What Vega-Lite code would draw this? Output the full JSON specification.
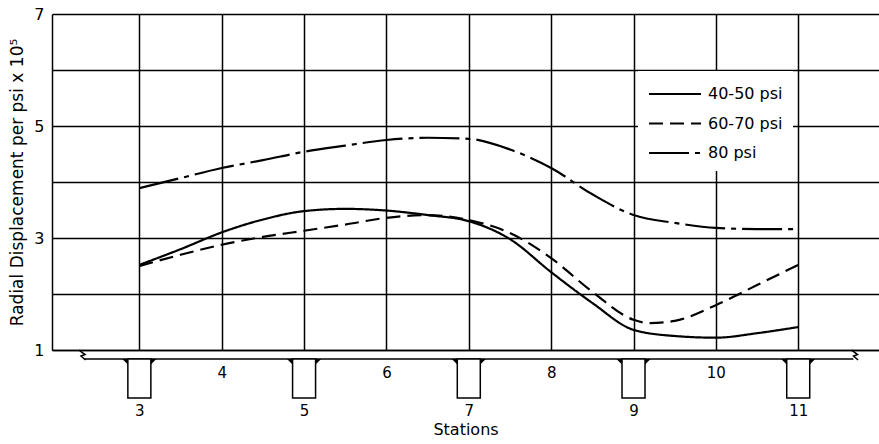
{
  "$schema": "https://vega.github.io/schema/vega-lite/v6.json",
  "autosize": {"type": "none"},
  "padding": {"left": 52, "top": 14, "right": 0, "bottom": 94},
  "width": 827,
  "height": 336,
  "background": "white",
  "config": {
    "view": {"stroke": null},
    "font": "DejaVu Sans"
  },
  "datasets": {
    "curves": [
      {"station": 3, "value": 2.52, "series": "40-50 psi"},
      {"station": 3.5, "value": 2.8, "series": "40-50 psi"},
      {"station": 4, "value": 3.1, "series": "40-50 psi"},
      {"station": 4.5, "value": 3.33, "series": "40-50 psi"},
      {"station": 5, "value": 3.48, "series": "40-50 psi"},
      {"station": 5.5, "value": 3.52, "series": "40-50 psi"},
      {"station": 6, "value": 3.49, "series": "40-50 psi"},
      {"station": 6.5, "value": 3.41, "series": "40-50 psi"},
      {"station": 7, "value": 3.3, "series": "40-50 psi"},
      {"station": 7.5, "value": 2.98, "series": "40-50 psi"},
      {"station": 8, "value": 2.39, "series": "40-50 psi"},
      {"station": 8.5, "value": 1.84, "series": "40-50 psi"},
      {"station": 9, "value": 1.36, "series": "40-50 psi"},
      {"station": 9.5, "value": 1.25, "series": "40-50 psi"},
      {"station": 10, "value": 1.22, "series": "40-50 psi"},
      {"station": 10.5, "value": 1.3, "series": "40-50 psi"},
      {"station": 11, "value": 1.41, "series": "40-50 psi"},
      {"station": 3, "value": 2.5, "series": "60-70 psi"},
      {"station": 3.5, "value": 2.7, "series": "60-70 psi"},
      {"station": 4, "value": 2.88, "series": "60-70 psi"},
      {"station": 4.5, "value": 3.02, "series": "60-70 psi"},
      {"station": 5, "value": 3.13, "series": "60-70 psi"},
      {"station": 5.5, "value": 3.24, "series": "60-70 psi"},
      {"station": 6, "value": 3.36, "series": "60-70 psi"},
      {"station": 6.5, "value": 3.41, "series": "60-70 psi"},
      {"station": 7, "value": 3.32, "series": "60-70 psi"},
      {"station": 7.5, "value": 3.09, "series": "60-70 psi"},
      {"station": 8, "value": 2.64, "series": "60-70 psi"},
      {"station": 8.5, "value": 2.04, "series": "60-70 psi"},
      {"station": 9, "value": 1.54, "series": "60-70 psi"},
      {"station": 9.2, "value": 1.48, "series": "60-70 psi"},
      {"station": 9.5, "value": 1.52, "series": "60-70 psi"},
      {"station": 10, "value": 1.8, "series": "60-70 psi"},
      {"station": 10.5, "value": 2.16, "series": "60-70 psi"},
      {"station": 11, "value": 2.52, "series": "60-70 psi"},
      {"station": 3, "value": 3.89, "series": "80 psi"},
      {"station": 3.5, "value": 4.07, "series": "80 psi"},
      {"station": 4, "value": 4.25, "series": "80 psi"},
      {"station": 4.5, "value": 4.39, "series": "80 psi"},
      {"station": 5, "value": 4.54, "series": "80 psi"},
      {"station": 5.5, "value": 4.65, "series": "80 psi"},
      {"station": 6, "value": 4.75, "series": "80 psi"},
      {"station": 6.5, "value": 4.79, "series": "80 psi"},
      {"station": 7, "value": 4.77, "series": "80 psi"},
      {"station": 7.5, "value": 4.58, "series": "80 psi"},
      {"station": 8, "value": 4.25, "series": "80 psi"},
      {"station": 8.5, "value": 3.78, "series": "80 psi"},
      {"station": 9, "value": 3.41, "series": "80 psi"},
      {"station": 9.5, "value": 3.27, "series": "80 psi"},
      {"station": 10, "value": 3.18, "series": "80 psi"},
      {"station": 10.5, "value": 3.16, "series": "80 psi"},
      {"station": 11, "value": 3.16, "series": "80 psi"}
    ],
    "piers": [
      {"station": 3}, {"station": 5}, {"station": 7}, {"station": 9}, {"station": 11}
    ],
    "one": [{"item": "beam"}]
  },
  "layer": [
    {
      "data": {"name": "curves"},
      "mark": {"type": "line", "interpolate": "monotone", "color": "black", "strokeWidth": 2.2},
      "encoding": {
        "x": {
          "field": "station", "type": "quantitative", "title": "Stations",
          "scale": {"domain": [2, 11.92], "nice": false, "zero": false},
          "axis": {
            "values": [3, 4, 5, 6, 7, 8, 9, 10, 11],
            "format": "d",
            "title": "Stations",
            "titleFont": "DejaVu Sans", "titleFontSize": 16, "titleFontWeight": "normal", "titleColor": "black",
            "titlePadding": 3,
            "labelFont": "DejaVu Sans", "labelFontSize": 15, "labelColor": "black",
            "labelPadding": {"condition": {"test": "datum.value % 2 == 0", "value": 15}, "value": 53},
            "ticks": false,
            "grid": true, "gridColor": "black", "gridWidth": 1.5, "gridOpacity": 1,
            "domain": true, "domainColor": "black", "domainWidth": 1.5
          }
        },
        "y": {
          "field": "value", "type": "quantitative", "title": "Radial Displacement per psi x 10⁵",
          "scale": {"domain": [1, 7], "nice": false, "zero": false},
          "axis": {
            "values": [1, 2, 3, 4, 5, 6, 7],
            "format": "d",
            "labelExpr": "datum.value % 2 == 1 ? datum.label : ''",
            "title": "Radial Displacement per psi x 10⁵",
            "titleFont": "DejaVu Sans", "titleFontSize": 17, "titleFontWeight": "normal", "titleColor": "black",
            "titlePadding": 7,
            "labelFont": "DejaVu Sans", "labelFontSize": 16, "labelColor": "black",
            "labelPadding": 8,
            "ticks": false,
            "grid": true, "gridColor": "black", "gridWidth": 1.5, "gridOpacity": 1,
            "domain": true, "domainColor": "black", "domainWidth": 1.5
          }
        },
        "strokeDash": {
          "field": "series", "type": "nominal",
          "scale": {"domain": ["40-50 psi", "60-70 psi", "80 psi"], "range": [[1, 0], [14, 7], [40, 6, 5, 6]]},
          "legend": {
            "title": null,
            "orient": "none",
            "legendX": 586,
            "legendY": 57,
            "fillColor": "white",
            "strokeColor": null,
            "padding": 10,
            "symbolType": "M -1 0 H 3.333",
            "symbolSize": 576,
            "symbolStrokeWidth": 2,
            "symbolStrokeColor": "black",
            "labelOffset": 34,
            "rowPadding": 8.5,
            "labelFont": "DejaVu Sans",
            "labelFontSize": 16,
            "labelColor": "black"
          }
        }
      }
    },
    {
      "data": {"name": "one"},
      "mark": {"type": "rule", "color": "black", "strokeWidth": 1.5},
      "encoding": {
        "x": {"datum": 2.336, "type": "quantitative", "title": "Stations", "scale": {"domain": [2, 11.92], "nice": false, "zero": false}},
        "x2": {"datum": 11.67},
        "y": {"datum": 0.84, "type": "quantitative", "title": "Radial Displacement per psi x 10⁵", "scale": {"domain": [1, 7], "nice": false, "zero": false}}
      }
    },
    {
      "data": {"name": "piers"},
      "mark": {"type": "bar", "width": 23, "fill": "white", "stroke": "black", "strokeWidth": 1.5},
      "encoding": {
        "x": {"field": "station", "type": "quantitative", "title": "Stations", "scale": {"domain": [2, 11.92], "nice": false, "zero": false}},
        "y": {"datum": 0.84, "type": "quantitative", "title": "Radial Displacement per psi x 10⁵", "scale": {"domain": [1, 7], "nice": false, "zero": false}},
        "y2": {"datum": 0.143}
      }
    },
    {
      "data": {"name": "piers"},
      "mark": {"type": "point", "shape": "M -1 -1 L 1 -1 L 1 1 Z", "filled": true, "color": "black", "size": 30, "opacity": 1, "xOffset": -14.3, "yOffset": 2.7},
      "encoding": {
        "x": {"field": "station", "type": "quantitative", "title": "Stations", "scale": {"domain": [2, 11.92], "nice": false, "zero": false}},
        "y": {"datum": 0.84, "type": "quantitative", "title": "Radial Displacement per psi x 10⁵", "scale": {"domain": [1, 7], "nice": false, "zero": false}}
      }
    },
    {
      "data": {"name": "piers"},
      "mark": {"type": "point", "shape": "M 1 -1 L -1 -1 L -1 1 Z", "filled": true, "color": "black", "size": 30, "opacity": 1, "xOffset": 14.3, "yOffset": 2.7},
      "encoding": {
        "x": {"field": "station", "type": "quantitative", "title": "Stations", "scale": {"domain": [2, 11.92], "nice": false, "zero": false}},
        "y": {"datum": 0.84, "type": "quantitative", "title": "Radial Displacement per psi x 10⁵", "scale": {"domain": [1, 7], "nice": false, "zero": false}}
      }
    },
    {
      "data": {"name": "one"},
      "mark": {"type": "point", "shape": "M -0.7 -1 L 0.5 -0.1 L -0.3 0.2 L 0.6 1", "filled": false, "color": "black", "strokeWidth": 1.5, "size": 100, "opacity": 1},
      "encoding": {
        "x": {"datum": 2.31, "type": "quantitative", "title": "Stations", "scale": {"domain": [2, 11.92], "nice": false, "zero": false}},
        "y": {"datum": 0.91, "type": "quantitative", "title": "Radial Displacement per psi x 10⁵", "scale": {"domain": [1, 7], "nice": false, "zero": false}}
      }
    },
    {
      "data": {"name": "one"},
      "mark": {"type": "point", "shape": "M -0.7 -1 L 0.5 -0.1 L -0.3 0.2 L 0.6 1", "filled": false, "color": "black", "strokeWidth": 1.5, "size": 100, "opacity": 1},
      "encoding": {
        "x": {"datum": 11.69, "type": "quantitative", "title": "Stations", "scale": {"domain": [2, 11.92], "nice": false, "zero": false}},
        "y": {"datum": 0.91, "type": "quantitative", "title": "Radial Displacement per psi x 10⁵", "scale": {"domain": [1, 7], "nice": false, "zero": false}}
      }
    }
  ]
}
